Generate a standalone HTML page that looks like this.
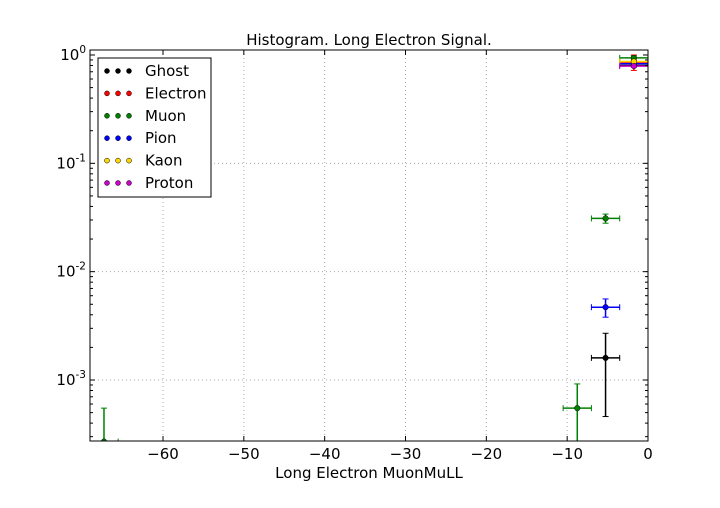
<!DOCTYPE html>
<html><head><meta charset="utf-8"><style>
body{margin:0;background:#fff;font-family:"DejaVu Sans","Liberation Sans",sans-serif}
svg text{font-family:"DejaVu Sans","Liberation Sans",sans-serif}
</style></head><body>
<svg id="c" width="720" height="504" xmlns="http://www.w3.org/2000/svg">
<rect width="720" height="504" fill="#fff"/>
<text x="369" y="45" text-anchor="middle" font-size="15">Histogram. Long Electron Signal.</text>
<text x="369" y="478" text-anchor="middle" font-size="15">Long Electron MuonMuLL</text>
<g id="grid"></g><g id="marks"></g><g id="axes"></g><g id="legend"></g>
</svg>
<script>
const names=["Ghost","Electron","Muon","Pion","Kaon","Proton"];
const colors=["#000","#f00","#008000","#00f","#ffd700","#c0c"];
const ghostX=[-5.25,-1.75], ghostY=[0.0016,0.80], ghostLo=[0.00046,0.78], ghostHi=[0.0027,0.82];
const electronX=[-1.75], electronY=[0.86], electronLo=[0.72], electronHi=[1.0];
const muonX=[-67.3,-8.75,-5.25,-1.75], muonY=[0.00027,0.00055,0.031,0.94], muonLo=[0.0001,0.0001,0.028,0.90], muonHi=[0.00055,0.00092,0.034,0.98];
const pionX=[-5.25,-1.75], pionY=[0.0047,0.83], pionLo=[0.0038,0.81], pionHi=[0.0056,0.85];
const kaonX=[-1.75], kaonY=[0.87], kaonLo=[0.85], kaonHi=[0.89];
const protonX=[-1.75], protonY=[0.79], protonLo=[0.77], protonHi=[0.81];
const xTicks=[-60,-50,-40,-30,-20,-10,0];
const yTicks=[0,-1,-2,-3];
const xErr=1.75;
const L=90,R=648,T=50,B=441,XMIN=-69.03,XMAX=0,YMIN=-3.563,YMAX=0.046;
const xs=v=>L+(v-XMIN)/(XMAX-XMIN)*(R-L);
const ys=v=>B-(Math.log10(Math.max(v,1e-5))-YMIN)/(YMAX-YMIN)*(B-T);
const NS="http://www.w3.org/2000/svg";
function mk(p,t,a){const e=document.createElementNS(NS,t);for(const k in a)e.setAttribute(k,a[k]);p.appendChild(e);return e;}
const grid=document.getElementById('grid'),marks=document.getElementById('marks'),axes=document.getElementById('axes'),leg=document.getElementById('legend');
xTicks.forEach(t=>{const x=xs(t);
 if(t!==0){const g=mk(grid,'line',{x1:x,x2:x,y1:T,y2:B,stroke:'#aaa','stroke-dasharray':'1,3'});
 
 }
 mk(axes,'line',{x1:x,x2:x,y1:B,y2:B-5,stroke:'#000'});mk(axes,'line',{x1:x,x2:x,y1:T,y2:T+5,stroke:'#000'});
 const tx=mk(axes,'text',{x:x,y:B+18,'text-anchor':'middle','font-size':15});tx.textContent=t===0?'0':'\u2212'+(-t);
 
 
});
for(let d=-4;d<=0;d++){for(let m=1;m<10;m++){const v=m*Math.pow(10,d);const y=ys(v);if(y<T-0.5||y>B+0.5)continue;
 const len=m===1?5:3;mk(axes,'line',{x1:L,x2:L+len,y1:y,y2:y,stroke:'#000'});mk(axes,'line',{x1:R,x2:R-len,y1:y,y2:y,stroke:'#000'});}}
yTicks.forEach(t=>{const y=ys(Math.pow(10,t));
 if(t!==0){const g=mk(grid,'line',{x1:L,x2:R,y1:y,y2:y,stroke:'#aaa','stroke-dasharray':'1,3'});
 
 }
 const tx=mk(axes,'text',{x:L-4,y:y+5,'text-anchor':'end','font-size':15});
 tx.innerHTML='10<tspan font-size="10.5" dy="-7">'+(t===0?'0':'-'+(-t))+'</tspan>';
 
 
});
const fr=mk(axes,'rect',{x:L,y:T,width:R-L,height:B-T,fill:'none',stroke:'#000'});


const series=[[ghostX,ghostY,ghostLo,ghostHi],[electronX,electronY,electronLo,electronHi],[muonX,muonY,muonLo,muonHi],[pionX,pionY,pionLo,pionHi],[kaonX,kaonY,kaonLo,kaonHi],[protonX,protonY,protonLo,protonHi]];
const cp=mk(marks,'clipPath',{id:'cl'});mk(cp,'rect',{x:L,y:T,width:R-L,height:B-T});
series.forEach((s,i)=>{const g=mk(marks,'g',{'clip-path':'url(#cl)'});
 
 
 const c=colors[i];
 s[0].forEach((xv,j)=>{const x=xs(xv),y=ys(s[1][j]),x1=xs(xv-xErr),x2=xs(xv+xErr),y1=ys(s[3][j]),y2=ys(s[2][j]);
  mk(g,'line',{x1:x1,x2:x2,y1:y,y2:y,stroke:c,'stroke-width':1.5});
  mk(g,'line',{x1:x,x2:x,y1:y1,y2:y2,stroke:c,'stroke-width':1.5});
  [x1,x2].forEach(xx=>mk(g,'line',{x1:xx,x2:xx,y1:y-3,y2:y+3,stroke:c}));
  [y1,y2].forEach(yy=>mk(g,'line',{x1:x-3,x2:x+3,y1:yy,y2:yy,stroke:c}));
  const p=mk(g,'circle',{cx:x,cy:y,r:2.8,fill:c,stroke:'#000','stroke-width':0.5});
  
  
 });
});
const lb=mk(leg,'rect',{x:98,y:58,width:113,height:139,fill:'#fff',stroke:'#000'});


names.forEach((n,i)=>{const y=71+i*22.4;const g=mk(leg,'g',{});
 
 
 [107,118,129].forEach(x=>mk(g,'circle',{cx:x,cy:y,r:2.5,fill:colors[i],stroke:'#000','stroke-width':0.5}));
 const t=mk(g,'text',{x:145,y:y+5,'font-size':15});t.textContent=n;});
</script>
</body></html>
